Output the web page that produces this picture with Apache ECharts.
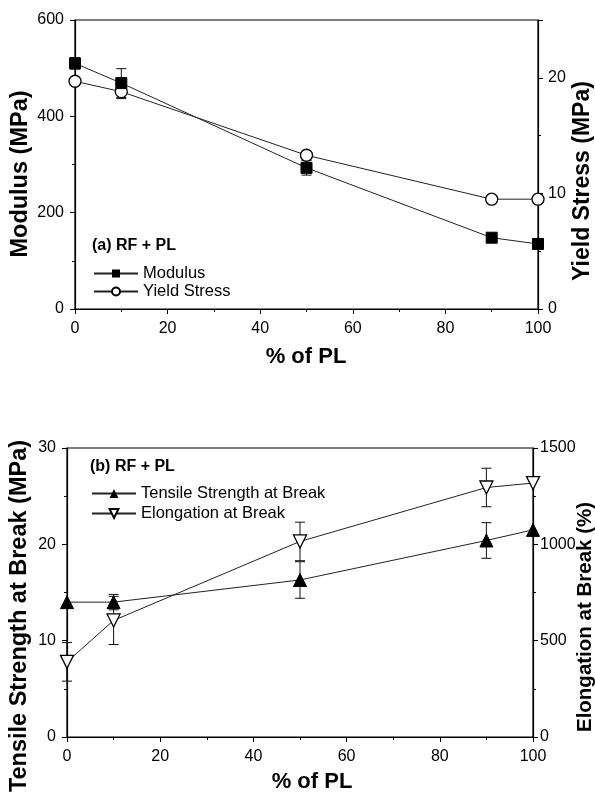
<!DOCTYPE html>
<html>
<head>
<meta charset="utf-8">
<script src="https://cdn.jsdelivr.net/npm/echarts@6/dist/echarts.min.js"></script>
<style>
html, body { margin: 0; padding: 0; background: #fff; }
#chart { width: 595px; height: 795px; }
</style>
</head>
<body>
<div id="chart"></div>
<script>
// % PL content
var plPct = [0, 10, 50, 90, 100];

// panel (a)
var modulus = [510, 469, 293, 148, 135];
var modulusErr = [12, 30, 15, 5, 5];
var yieldStress = [19.7, 18.8, 13.3, 9.5, 9.5];
var yieldErr = [0.3, 0.6, 0.3, 0.3, 0.3];

// panel (b)
var tensile = [14.0, 14.0, 16.3, 20.4, 21.5];
var tensileErr = [0, 0.8, 1.9, 1.85, 0];
var elongation = [390, 605, 1015, 1295, 1318];
var elongationErr = [100, 125, 100, 100, 0];

var FONT = '"Liberation Sans", Arial, sans-serif';

function pairs(xs, ys) {
    var out = [];
    for (var i = 0; i < xs.length; i++) out.push([xs[i], ys[i]]);
    return out;
}
function errData(xs, ys, es) {
    var out = [];
    for (var i = 0; i < xs.length; i++) {
        if (es[i] > 0) out.push([xs[i], ys[i] - es[i], ys[i] + es[i]]);
    }
    return out;
}
// vertical error bar with caps
function errorBar(params, api) {
    var lo = api.coord([api.value(0), api.value(1)]);
    var hi = api.coord([api.value(0), api.value(2)]);
    var w = 5;
    var st = { stroke: '#111', lineWidth: 1 };
    return {
        type: 'group',
        children: [
            { type: 'line', shape: { x1: lo[0], y1: lo[1], x2: hi[0], y2: hi[1] }, style: st },
            { type: 'line', shape: { x1: lo[0] - w, y1: lo[1], x2: lo[0] + w, y2: lo[1] }, style: st },
            { type: 'line', shape: { x1: hi[0] - w, y1: hi[1], x2: hi[0] + w, y2: hi[1] }, style: st }
        ]
    };
}

var axisLine = { show: true, lineStyle: { color: '#000', width: 1.2 } };
var labelStyle = { color: '#000', fontFamily: FONT, fontSize: 16 };

function xAxisDef(gridIndex) {
    return {
        type: 'value', gridIndex: gridIndex, min: 0, max: 100, interval: 20,
        axisLine: axisLine,
        axisTick: { show: true, length: 5, lineStyle: { color: '#000' } },
        minorTick: { show: true, splitNumber: 2, length: 3, lineStyle: { color: '#000' } },
        axisLabel: Object.assign({ margin: 12 }, labelStyle),
        splitLine: { show: false }
    };
}
function yAxisDef(gridIndex, pos, min, max, interval, margin) {
    return {
        type: 'value', gridIndex: gridIndex, position: pos, min: min, max: max, interval: interval,
        axisLine: axisLine,
        axisTick: { show: true, length: 5, lineStyle: { color: '#000' } },
        minorTick: { show: true, splitNumber: 2, length: 3, lineStyle: { color: '#000' } },
        axisLabel: Object.assign({
            margin: margin,
            formatter: function (v) { return v % interval === 0 ? String(v) : ''; }
        }, labelStyle),
        splitLine: { show: false }
    };
}
function vTitle(text, x, y, size) {
    return {
        type: 'text', x: x, y: y, rotation: Math.PI / 2,
        style: { text: text, fill: '#000', font: 'bold ' + size + 'px ' + FONT, align: 'center', verticalAlign: 'middle' }
    };
}
function hTitle(text, x, y) {
    return {
        type: 'text', x: x, y: y,
        style: { text: text, fill: '#000', font: 'bold 22px ' + FONT, align: 'center', verticalAlign: 'middle' }
    };
}

var chart = echarts.init(document.getElementById('chart'), null, { renderer: 'canvas' });

var lineStyle = { color: '#222', width: 1 };

chart.setOption({
    backgroundColor: '#fff',
    animation: false,
    grid: [
        { left: 75, right: 57, top: 20, height: 289, show: true, borderColor: '#000', borderWidth: 1.2, backgroundColor: 'transparent' },
        { left: 67, right: 62, top: 448, height: 289, show: true, borderColor: '#000', borderWidth: 1.2, backgroundColor: 'transparent' }
    ],
    xAxis: [xAxisDef(0), xAxisDef(1)],
    yAxis: [
        yAxisDef(0, 'left', 0, 600, 200, 11),
        yAxisDef(0, 'right', 0, 25, 10, 10),
        yAxisDef(1, 'left', 0, 30, 10, 11),
        yAxisDef(1, 'right', 0, 1500, 500, 7)
    ],
    legend: [
        {
            data: ['Modulus', 'Yield Stress'],
            left: 88, top: 260, orient: 'vertical', itemGap: 1,
            itemWidth: 44, itemHeight: 10,
            textStyle: { color: '#000', fontFamily: FONT, fontSize: 16.5 }
        },
        {
            data: ['Tensile Strength at Break', 'Elongation at Break'],
            left: 86, top: 480, orient: 'vertical', itemGap: 3,
            itemWidth: 44, itemHeight: 11,
            textStyle: { color: '#000', fontFamily: FONT, fontSize: 16.5 }
        }
    ],
    graphic: [
        { type: 'text', left: 92, top: 238, style: { text: '(a) RF + PL', fill: '#000', font: 'bold 16px ' + FONT } },
        { type: 'text', left: 90, top: 459, style: { text: '(b) RF + PL', fill: '#000', font: 'bold 16px ' + FONT } },
        vTitle('Modulus (MPa)', 21, 174, 23.5),
        vTitle('Yield Stress (MPa)', 583, 181, 23),
        hTitle('% of PL', 306, 357),
        vTitle('Tensile Strength at Break (MPa)', 20, 616, 23.5),
        vTitle('Elongation at Break (%)', 585, 617, 20.5),
        hTitle('% of PL', 312, 782)
    ],
    series: [
        { type: 'custom', xAxisIndex: 0, yAxisIndex: 0, renderItem: errorBar, data: errData(plPct, modulus, modulusErr), z: 1 },
        { type: 'custom', xAxisIndex: 0, yAxisIndex: 1, renderItem: errorBar, data: errData(plPct, yieldStress, yieldErr), z: 1 },
        { type: 'custom', xAxisIndex: 1, yAxisIndex: 2, renderItem: errorBar, data: errData(plPct, tensile, tensileErr), z: 1 },
        { type: 'custom', xAxisIndex: 1, yAxisIndex: 3, renderItem: errorBar, data: errData(plPct, elongation, elongationErr), z: 1 },
        {
            name: 'Modulus', type: 'line', xAxisIndex: 0, yAxisIndex: 0,
            data: pairs(plPct, modulus), symbol: 'rect', symbolSize: 11,
            lineStyle: lineStyle, itemStyle: { color: '#000', borderColor: '#000' }, z: 3
        },
        {
            name: 'Yield Stress', type: 'line', xAxisIndex: 0, yAxisIndex: 1,
            data: pairs(plPct, yieldStress), symbol: 'circle', symbolSize: 12,
            lineStyle: lineStyle, itemStyle: { color: '#fff', borderColor: '#000', borderWidth: 1.3 }, z: 2
        },
        {
            name: 'Tensile Strength at Break', type: 'line', xAxisIndex: 1, yAxisIndex: 2,
            data: pairs(plPct, tensile), symbol: 'triangle', symbolSize: 13,
            lineStyle: lineStyle, itemStyle: { color: '#000', borderColor: '#000' }, z: 3
        },
        {
            name: 'Elongation at Break', type: 'line', xAxisIndex: 1, yAxisIndex: 3,
            data: pairs(plPct, elongation), symbol: 'triangle', symbolRotate: 180, symbolSize: 13,
            lineStyle: lineStyle, itemStyle: { color: '#fff', borderColor: '#000', borderWidth: 1.3 }, z: 3
        }
    ]
});
</script>
</body>
</html>
